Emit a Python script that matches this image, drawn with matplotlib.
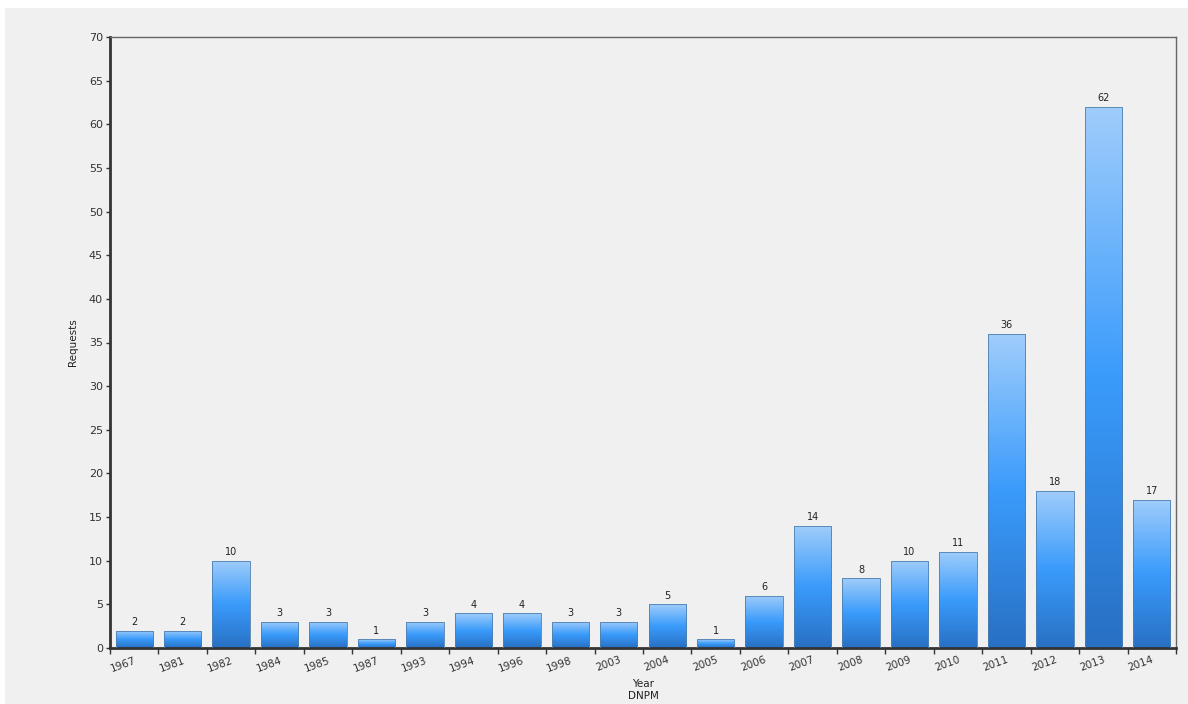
import numpy as np
import matplotlib.pyplot as plt
from matplotlib.colors import LinearSegmentedColormap
from matplotlib.patches import Rectangle

years = ["1967", "1981", "1982", "1984", "1985", "1987", "1993", "1994", "1996", "1998", "2003",
         "2004", "2005", "2006", "2007", "2008", "2009", "2010", "2011", "2012", "2013", "2014"]
requests = [2, 2, 10, 3, 3, 1, 3, 4, 4, 3, 3, 5, 1, 6, 14, 8, 10, 11, 36, 18, 62, 17]

bg = "#f0f0f0"
fig = plt.figure(figsize=(11.88, 7.04), dpi=100, facecolor=bg)
# white strips at top and left like the original screenshot
fig.add_artist(Rectangle((0, 1 - 8 / 704), 1, 8 / 704, transform=fig.transFigure,
                         facecolor="white", edgecolor="none"))
fig.add_artist(Rectangle((0, 0), 5 / 1188, 1, transform=fig.transFigure,
                         facecolor="white", edgecolor="none"))
ax = fig.add_axes([110 / 1188, 1 - 648 / 704, (1176 - 110) / 1188, (648 - 37) / 704])
ax.set_facecolor(bg)

grad = LinearSegmentedColormap.from_list(
    "bar", [(0.0, "#2870c4"), (0.5, "#3a9bfb"), (1.0, "#a0cdfb")])
gimg = np.linspace(0, 1, 256).reshape(-1, 1)

x = np.arange(len(years))
bars = ax.bar(x, requests, width=0.77, color="none", edgecolor="#4f7fae", linewidth=0.6, zorder=3)
for b in bars:
    x0, y0 = b.get_x(), b.get_y()
    w, h = b.get_width(), b.get_height()
    im = ax.imshow(gimg, cmap=grad, aspect="auto", origin="lower",
                   extent=[x0, x0 + w, y0, y0 + h], zorder=2, interpolation="bicubic")
    im.set_clip_path(b)

for xi, v in zip(x, requests):
    ax.text(xi, v + 0.4, str(v), ha="center", va="bottom", fontsize=7, color="#222222")

ax.set_xlim(-0.5, len(years) - 0.5)
ax.set_ylim(0, 70)
ax.set_yticks(np.arange(0, 71, 5))
ax.set_xticks(x)
ax.set_xticklabels(years, rotation=20, ha="right", rotation_mode="anchor",
                   fontsize=7.5, color="#333333")
ax.set_xticks(np.arange(-0.5, len(years), 1), minor=True)
ax.tick_params(axis="x", which="major", length=0, pad=5)
ax.tick_params(axis="x", which="minor", length=4, width=1, color="#333333")
ax.tick_params(axis="y", length=3, width=1, color="#333333", labelsize=8, labelcolor="#333333", pad=2)

for s in ["left", "bottom"]:
    ax.spines[s].set_linewidth(2)
    ax.spines[s].set_color("#333333")
for s in ["top", "right"]:
    ax.spines[s].set_linewidth(1)
    ax.spines[s].set_color("#666666")

ax.set_ylabel("Requests", fontsize=7.5, color="#222222", labelpad=8)
ax.set_xlabel("Year\nDNPM", fontsize=7.5, color="#222222", labelpad=4, linespacing=1.2)

fig.savefig("out.png", dpi=100, facecolor=bg)
